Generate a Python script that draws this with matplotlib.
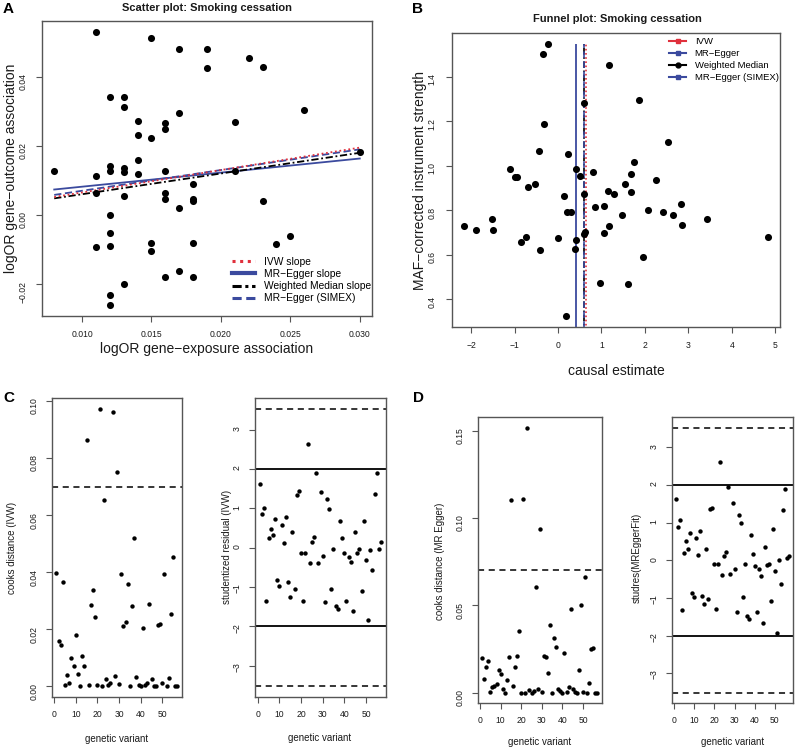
import numpy as np
import matplotlib
matplotlib.use("Agg")
import matplotlib.pyplot as plt
from matplotlib.lines import Line2D

plt.rcParams["font.family"] = ["Liberation Sans", "DejaVu Sans"]

# ---------------------------------------------------------------------------
# data
# ---------------------------------------------------------------------------
# A: per-variant associations
exposure_assoc = [
    0.008, 0.011, 0.015, 0.017, 0.019, 0.019, 0.022, 0.023, 0.012, 0.013,
    0.013, 0.014, 0.014, 0.015, 0.016, 0.016, 0.017, 0.021, 0.026, 0.030,
    0.011, 0.012, 0.012, 0.013, 0.013, 0.014, 0.014, 0.016, 0.021, 0.018,
    0.011, 0.013, 0.016, 0.016, 0.017, 0.018, 0.018, 0.023, 0.012, 0.012,
    0.012, 0.011, 0.015, 0.015, 0.018, 0.024, 0.025, 0.017, 0.016, 0.018,
    0.013, 0.012, 0.012,
]
outcome_assoc = [
    0.0128, 0.0530, 0.0513, 0.0480, 0.0480, 0.0425, 0.0455, 0.0427, 0.0342, 0.0342,
    0.0312, 0.0271, 0.0231, 0.0222, 0.0266, 0.0248, 0.0294, 0.0268, 0.0303, 0.0182,
    0.0113, 0.0142, 0.0127, 0.0137, 0.0125, 0.0158, 0.0119, 0.0128, 0.0127, 0.0091,
    0.0064, 0.0054, 0.0064, 0.0047, 0.0021, 0.0045, 0.0039, 0.0040, 0.0000, -0.0053,
    -0.0089, -0.0094, -0.0082, -0.0105, -0.0080, -0.0084, -0.0060, -0.0161, -0.0180, -0.0181,
    -0.0200, -0.0231, -0.0261,
]

# fitted estimates
ivw_slope = 0.65
egger_slope, egger_int = 0.408, 0.0041
wm_slope = 0.60
simex_slope, simex_int = 0.60, 0.0010

# B: funnel plot
causal_est = [
    -0.23, -0.35, 1.17, 0.60, 1.86, -0.33, 2.53, -0.44, 0.24, -1.11,
    -0.99, -0.94, 0.41, 0.50, 0.81, 1.74, 1.67, 2.25, -0.68, -0.54,
    1.55, 0.14, 0.60, 1.14, 1.28, 1.67, 0.86, 1.05, 0.21, 0.31,
    2.07, 2.41, 2.64, 2.83, 2.86, 3.42, 1.48, 1.18, 1.05, -2.16,
    -1.89, -1.52, -1.50, -0.84, -0.73, -0.42, 0.01, 0.42, 0.38, 0.62,
    0.60, 1.95, 0.97, 1.60, 0.18, 4.83,
]
maf_strength = [
    1.547, 1.503, 1.454, 1.281, 1.295, 1.189, 1.108, 1.065, 1.054, 0.984,
    0.949, 0.949, 0.984, 0.955, 0.973, 1.018, 0.964, 0.934, 0.905, 0.916,
    0.916, 0.865, 0.873, 0.887, 0.874, 0.883, 0.815, 0.818, 0.790, 0.790,
    0.800, 0.790, 0.779, 0.829, 0.733, 0.761, 0.779, 0.730, 0.698, 0.730,
    0.709, 0.761, 0.709, 0.655, 0.679, 0.619, 0.676, 0.665, 0.626, 0.703,
    0.691, 0.590, 0.473, 0.466, 0.323, 0.680,
]

# C / D: diagnostics per genetic variant (1..57)
cooks_ivw = [
    0.0397, 0.0159, 0.0144, 0.0364, 0.0006, 0.0041, 0.0012, 0.0099, 0.0071, 0.0179,
    0.0042, 0.0002, 0.0107, 0.0071, 0.0865, 0.0006, 0.0284, 0.0339, 0.0244, 0.0004,
    0.0972, 0.0000, 0.0654, 0.0027, 0.0003, 0.0011, 0.0962, 0.0036, 0.0751, 0.0009,
    0.0392, 0.0210, 0.0224, 0.0360, 0.0000, 0.0280, 0.0521, 0.0033, 0.0006, 0.0000,
    0.0203, 0.0006, 0.0011, 0.0287, 0.0027, 0.0000, 0.0000, 0.0215, 0.0218, 0.0011,
    0.0393, 0.0000, 0.0029, 0.0255, 0.0453, 0.0000, 0.0000,
]
studres_ivw = [
    1.61, 0.85, 1.00, -1.36, 0.25, 0.48, 0.32, 0.72, -0.82, -0.97,
    0.57, 0.12, 0.79, -0.87, -1.25, 0.39, -1.05, 1.33, 1.45, -0.13,
    -1.36, -0.13, 2.64, -0.39, 0.14, 0.28, 1.90, -0.39, 1.42, -0.21,
    -1.39, 1.23, 0.98, -1.05, -0.03, -1.47, -1.56, 0.67, 0.25, -0.13,
    -1.36, -0.25, -0.37, -1.62, 0.39, -0.14, -0.04, -1.09, 0.67, -0.31,
    -1.85, -0.07, -0.57, 1.37, 1.90, -0.03, 0.14,
]
cooks_egger = [
    0.0199, 0.0076, 0.0145, 0.0182, 0.0006, 0.0031, 0.0040, 0.0050, 0.0130, 0.0107,
    0.0023, 0.0000, 0.0073, 0.0203, 0.1100, 0.0036, 0.0145, 0.0212, 0.0353, 0.0000,
    0.1108, 0.0000, 0.1515, 0.0015, 0.0000, 0.0010, 0.0606, 0.0020, 0.0936, 0.0006,
    0.0208, 0.0204, 0.0111, 0.0388, 0.0000, 0.0313, 0.0264, 0.0023, 0.0010, 0.0000,
    0.0225, 0.0006, 0.0032, 0.0481, 0.0020, 0.0006, 0.0000, 0.0128, 0.0504, 0.0006,
    0.0661, 0.0000, 0.0053, 0.0250, 0.0256, 0.0000, 0.0000,
]
studres_egger = [
    1.63, 0.88, 1.06, -1.33, 0.19, 0.52, 0.29, 0.73, -0.86, -0.98,
    0.58, 0.14, 0.77, -0.94, -1.16, 0.29, -1.02, 1.37, 1.40, -0.10,
    -1.29, -0.10, 2.61, -0.38, 0.12, 0.23, 1.95, -0.36, 1.52, -0.22,
    -1.37, 1.21, 0.99, -0.98, -0.10, -1.49, -1.55, 0.66, 0.18, -0.14,
    -1.38, -0.24, -0.43, -1.68, 0.36, -0.12, -0.10, -1.09, 0.83, -0.28,
    -1.92, 0.01, -0.62, 1.35, 1.90, 0.06, 0.12,
]
cooks_cut = 0.07
studres_cut = 2.0
bonf_cut = 3.52

# ---------------------------------------------------------------------------
FIG_W, FIG_H = 800, 750
BOX = "#555555"
TXT = "#1a1a1a"
RED = "#e0303c"
BLUE = "#3b4a9e"


def _axes(fig, x0, y0, x1, y1):
    return fig.add_axes([x0 / FIG_W, 1 - y1 / FIG_H, (x1 - x0) / FIG_W, (y1 - y0) / FIG_H])


def _ftext(fig, x, y, s, **kw):
    kw.setdefault("ha", "center")
    kw.setdefault("va", "center")
    kw.setdefault("color", TXT)
    fig.text(x / FIG_W, 1 - y / FIG_H, s, **kw)


def _rlim(vals):
    # R-style 4% padding around the data range
    lo, hi = float(np.min(vals)), float(np.max(vals))
    r = hi - lo
    return lo - 0.04 * r, hi + 0.04 * r


def _labels(vals, fmt):
    return [fmt.format(v).replace("-", "\u2212") for v in vals]


def _style(ax, size, xpad, ypad):
    for s in ax.spines.values():
        s.set_color(BOX)
        s.set_linewidth(1.0)
    ax.tick_params(direction="out", length=4, width=0.8, color=BOX,
                   labelsize=size, labelcolor=TXT)
    ax.tick_params(axis="x", pad=xpad)
    ax.tick_params(axis="y", pad=ypad, labelrotation=90)


fig = plt.figure(figsize=(8, 7.5), dpi=100)

# ---------------------------------------------------------------------------
# A) scatter plot
# ---------------------------------------------------------------------------
axA = _axes(fig, 42, 21, 372, 316)
bx = np.array(exposure_assoc)
by = np.array(outcome_assoc)
axA.scatter(bx, by, s=26, c="black", linewidths=0, zorder=3)
xs = np.array([bx.min(), bx.max()])
axA.plot(xs, egger_int + egger_slope * xs, color=BLUE, lw=1.3)
axA.plot(xs, wm_slope * xs, color="black", lw=1.3, ls=(0, (4, 1.5, 1, 1.5)))
axA.plot(xs, simex_int + simex_slope * xs, color=BLUE, lw=1.3, ls=(0, (4, 2)))
axA.plot(xs, ivw_slope * xs, color=RED, lw=1.3, ls=(0, (1, 1.5)))
axA.set_xlim(*_rlim(bx))
axA.set_ylim(*_rlim(by))
xt = [0.010, 0.015, 0.020, 0.025, 0.030]
yt = [-0.02, 0.00, 0.02, 0.04]
axA.set_xticks(xt, labels=_labels(xt, "{:.3f}"))
axA.set_yticks(yt, labels=_labels(yt, "{:.2f}"))
_style(axA, 6.2, 6, 6.5)
handlesA = [
    Line2D([], [], color=RED, lw=2.2, ls=(0, (1, 1.5))),
    Line2D([], [], color=BLUE, lw=3),
    Line2D([], [], color="black", lw=2.2, ls=(0, (3, 1.2, 1, 1.2))),
    Line2D([], [], color=BLUE, lw=2.2, ls=(0, (3, 1.5))),
]
axA.legend(handlesA, ["IVW slope", "MR\u2212Egger slope", "Weighted Median slope",
                      "MR\u2212Egger (SIMEX)"],
           loc="upper left", bbox_to_anchor=(0.575, 0.2), frameon=False,
           fontsize=7.4, borderpad=0, borderaxespad=0, handlelength=2.3,
           handletextpad=0.8, labelspacing=0.2)
_ftext(fig, 207, 8, "Scatter plot: Smoking cessation", fontsize=8, weight="bold")
_ftext(fig, 207, 349, "logOR gene\u2212exposure association", fontsize=10)
_ftext(fig, 11, 168, "logOR gene\u2212outcome association", fontsize=10, rotation=90)
_ftext(fig, 3, 9, "A", fontsize=11, weight="bold", ha="left", color="black")

# ---------------------------------------------------------------------------
# B) funnel plot
# ---------------------------------------------------------------------------
axB = _axes(fig, 452, 33, 780, 327)
ce = np.array(causal_est)
ms = np.array(maf_strength)
axB.scatter(ce, ms, s=26, c="black", linewidths=0, zorder=3)
top = ms.max()
axB.vlines(egger_slope, 0, top, color=BLUE, lw=1.3)
axB.vlines(wm_slope - 0.01, 0, top, color="black", lw=1.2, ls=(0, (4, 1.5, 1, 1.5)))
axB.vlines(simex_slope + 0.01, 0, top, color=BLUE, lw=1.2, ls=(0, (4, 2)))
axB.vlines(ivw_slope, 0, top, color=RED, lw=1.2, ls=(0, (1, 1.5)))
axB.set_xlim(*_rlim(ce))
axB.set_ylim(*_rlim(ms))
xt = list(range(-2, 6))
yt = [0.4, 0.6, 0.8, 1.0, 1.2, 1.4]
axB.set_xticks(xt, labels=_labels(xt, "{:d}"))
axB.set_yticks(yt, labels=_labels(yt, "{:.1f}"))
_style(axB, 6.2, 6, 7)
handlesB = [
    Line2D([], [], color=RED, lw=1.5, marker="s", ms=3),
    Line2D([], [], color=BLUE, lw=1.5, marker="s", ms=3),
    Line2D([], [], color="black", lw=1.5, marker="o", ms=3.5),
    Line2D([], [], color=BLUE, lw=1.5, marker="s", ms=3),
]
axB.legend(handlesB, ["IVW", "MR\u2212Egger", "Weighted Median", "MR\u2212Egger (SIMEX)"],
           loc="upper left", bbox_to_anchor=(0.662, 0.985), frameon=False,
           fontsize=6.8, borderpad=0, borderaxespad=0, handlelength=1.8,
           handletextpad=0.9, labelspacing=0.32)
_ftext(fig, 617, 19, "Funnel plot: Smoking cessation", fontsize=8, weight="bold")
_ftext(fig, 616, 371, "causal estimate", fontsize=10)
_ftext(fig, 420, 181, "MAF\u2212corrected instrument strength", fontsize=10, rotation=90)
_ftext(fig, 412, 9, "B", fontsize=11, weight="bold", ha="left", color="black")

# ---------------------------------------------------------------------------
# C / D) influence diagnostics
# ---------------------------------------------------------------------------
variant = np.arange(1, len(cooks_ivw) + 1)
vt = [0, 10, 20, 30, 40, 50]


def _cooks(ax, vals, yt, fmt):
    ax.scatter(variant, vals, s=10, c="black", linewidths=0, zorder=3)
    ax.axhline(cooks_cut, color="black", lw=1.1, ls=(0, (4, 3)))
    ax.set_xlim(*_rlim(variant))
    ax.set_ylim(*_rlim(vals))
    ax.set_xticks(vt, labels=_labels(vt, "{:d}"))
    ax.set_yticks(yt, labels=_labels(yt, fmt))
    _style(ax, 6.2, 5.5, 5.5)


def _studres(ax, vals):
    ax.scatter(variant, vals, s=10, c="black", linewidths=0, zorder=3)
    for c in (studres_cut, -studres_cut):
        ax.axhline(c, color="black", lw=1.3)
    for c in (bonf_cut, -bonf_cut):
        ax.axhline(c, color="black", lw=1.1, ls=(0, (4, 3)))
    ax.set_xlim(*_rlim(variant))
    ax.set_ylim(*_rlim([-bonf_cut, bonf_cut]))
    yt = [-3, -2, -1, 0, 1, 2, 3]
    ax.set_xticks(vt, labels=_labels(vt, "{:d}"))
    ax.set_yticks(yt, labels=_labels(yt, "{:d}"))
    _style(ax, 6.2, 5.5, 5.5)


axC1 = _axes(fig, 51.5, 398, 182.3, 697.3)
_cooks(axC1, cooks_ivw, [0.00, 0.02, 0.04, 0.06, 0.08, 0.10], "{:.2f}")
axC2 = _axes(fig, 255, 398, 386, 697.3)
_studres(axC2, studres_ivw)
axD1 = _axes(fig, 477.5, 417.3, 602, 703.3)
_cooks(axD1, cooks_egger, [0.00, 0.05, 0.10, 0.15], "{:.2f}")
axD2 = _axes(fig, 671.7, 417.3, 793.3, 703.3)
_studres(axD2, studres_egger)

_ftext(fig, 117, 739, "genetic variant", fontsize=7)
_ftext(fig, 320, 738, "genetic variant", fontsize=7)
_ftext(fig, 540, 742, "genetic variant", fontsize=7)
_ftext(fig, 733, 742, "genetic variant", fontsize=7)
_ftext(fig, 12, 548, "cooks distance (IVW)", fontsize=7, rotation=90)
_ftext(fig, 227, 547, "studentized residual (IVW)", fontsize=7, rotation=90)
_ftext(fig, 440, 561, "cooks distance (MR Egger)", fontsize=7, rotation=90)
_ftext(fig, 637, 558, "studres(MREggerFit)", fontsize=7, rotation=90)
_ftext(fig, 3, 398, "C", fontsize=11, weight="bold", ha="left", color="black")
_ftext(fig, 413, 398, "D", fontsize=11, weight="bold", ha="left", color="black")

fig.savefig("out.png", dpi=100, facecolor="white")
